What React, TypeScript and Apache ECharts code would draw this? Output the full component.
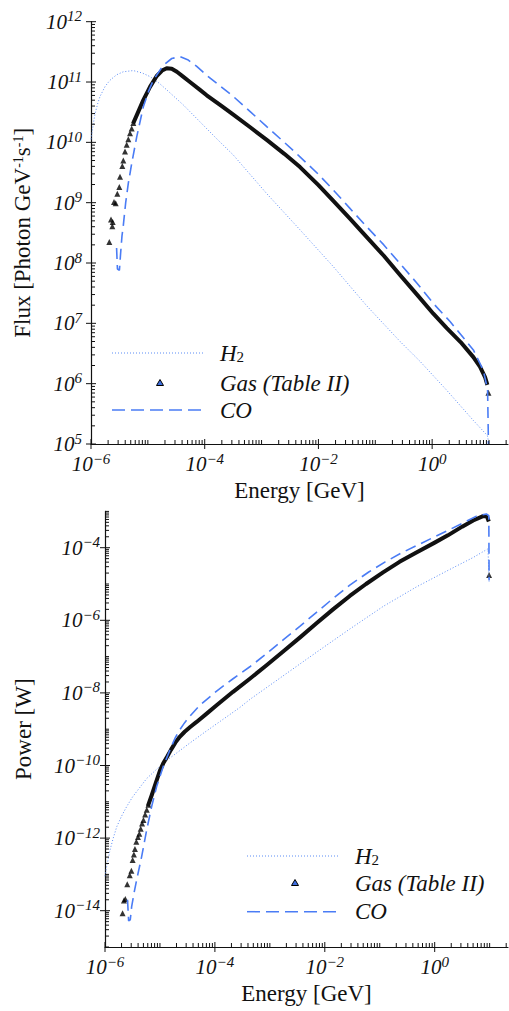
import React, { useEffect, useRef } from "react";
import * as echarts from "echarts";

// ---------- data (log10 values) ----------
// Top panel: x = log10(Energy / GeV), y = log10(Flux)
const fluxH2: [number, number][] = [
  [-6.0, 10.05], [-5.96, 10.3], [-5.93, 10.47], [-5.88, 10.65], [-5.842, 10.76], [-5.75, 10.93],
  [-5.666, 11.03], [-5.55, 11.12], [-5.432, 11.17], [-5.256, 11.19], [-5.1, 11.15], [-4.962, 11.09],
  [-4.8, 10.98], [-4.668, 10.87], [-4.376, 10.62], [-4.083, 10.34], [-3.8, 10.07], [-3.497, 9.79],
  [-2.909, 9.15], [-2.324, 8.55], [-1.738, 7.94], [-1.15, 7.29], [-0.565, 6.7], [-0.213, 6.37],
  [0.257, 5.89], [0.725, 5.39], [0.971, 5.14], [0.99, 5.05],
];
const fluxGasPoints: [number, number][] = [
  [-5.678, 8.35], [-5.648, 8.72], [-5.619, 8.68], [-5.625, 8.61], [-5.595, 9.01], [-5.566, 8.99],
  [-5.537, 9.15], [-5.502, 9.26], [-5.49, 9.43], [-5.449, 9.61], [-5.432, 9.7], [-5.402, 9.85],
  [-5.372, 9.96], [-5.344, 10.05], [-5.314, 10.15], [-5.284, 10.23], [-5.256, 10.32], [0.99, 5.85],
];
const fluxGasLine: [number, number][] = [
  [-5.26, 10.31], [-5.168, 10.51], [-5.08, 10.7], [-4.962, 10.92], [-4.844, 11.1], [-4.75, 11.19],
  [-4.668, 11.23], [-4.58, 11.22], [-4.49, 11.17], [-4.38, 11.09], [-4.26, 11.0], [-4.083, 10.87],
  [-3.965, 10.78], [-3.7, 10.6], [-3.497, 10.46], [-3.2, 10.25], [-2.909, 10.04], [-2.6, 9.81],
  [-2.324, 9.59], [-2.0, 9.29], [-1.738, 9.03], [-1.45, 8.74], [-1.15, 8.43], [-0.85, 8.12],
  [-0.565, 7.8], [-0.27, 7.48], [0.021, 7.16], [0.257, 6.92], [0.5, 6.69], [0.725, 6.44],
  [0.843, 6.28], [0.93, 6.11], [0.971, 5.98],
];
const fluxCO: [number, number][] = [
  [-5.55, 8.25], [-5.535, 7.9], [-5.5, 7.88], [-5.48, 8.15], [-5.455, 8.45], [-5.432, 8.62],
  [-5.39, 9.0], [-5.344, 9.32], [-5.284, 9.65], [-5.196, 10.09], [-5.08, 10.59], [-4.99, 10.84],
  [-4.904, 11.03], [-4.728, 11.28], [-4.58, 11.39], [-4.434, 11.42], [-4.3, 11.37], [-4.14, 11.26],
  [-3.95, 11.1], [-3.789, 10.98], [-3.497, 10.76], [-3.2, 10.51], [-2.909, 10.26], [-2.6, 10.0],
  [-2.324, 9.76], [-2.0, 9.47], [-1.738, 9.21], [-1.45, 8.91], [-1.15, 8.6], [-0.85, 8.3],
  [-0.565, 7.99], [-0.27, 7.67], [0.021, 7.33], [0.315, 7.03], [0.725, 6.56], [0.9, 6.22],
  [0.975, 5.9], [0.99, 5.0],
];

// Bottom panel: x = log10(Energy / GeV), y = log10(Power / W)
const powH2: [number, number][] = [
  [-6.0, -13.05], [-5.97, -12.79], [-5.909, -12.33], [-5.85, -12.0], [-5.787, -11.69], [-5.7, -11.4],
  [-5.605, -11.13], [-5.5, -10.87], [-5.364, -10.6], [-5.242, -10.36], [-5.1, -10.16], [-5.0, -10.02],
  [-4.878, -9.86], [-4.7, -9.66], [-4.455, -9.38], [-4.2, -9.1], [-3.9, -8.78], [-3.545, -8.4],
  [-3.364, -8.18], [-2.758, -7.53], [-2.151, -6.88], [-1.545, -6.24], [-0.94, -5.62], [-0.333, -5.08],
  [0.273, -4.6], [0.7, -4.27], [0.97, -4.03], [0.99, -4.95],
];
const powGasPoints: [number, number][] = [
  [-5.68, -14.07], [-5.655, -13.72], [-5.63, -13.68], [-5.595, -13.27], [-5.55, -13.02], [-5.52, -12.9],
  [-5.497, -12.6], [-5.475, -12.45], [-5.455, -12.3], [-5.43, -12.1], [-5.4, -11.97], [-5.376, -11.88],
  [-5.35, -11.74], [-5.325, -11.6], [-5.3, -11.5], [-5.27, -11.35], [-5.24, -11.22], [-5.21, -11.08],
  [0.99, -4.75],
];
const powGasLine: [number, number][] = [
  [-5.22, -11.12], [-5.15, -10.82], [-5.08, -10.5], [-5.0, -10.14], [-4.94, -9.94], [-4.87, -9.76],
  [-4.8, -9.57], [-4.72, -9.37], [-4.64, -9.21], [-4.55, -9.07], [-4.45, -8.94], [-4.333, -8.8],
  [-4.15, -8.57], [-3.969, -8.34], [-3.67, -7.97], [-3.364, -7.61], [-3.06, -7.24], [-2.758, -6.86],
  [-2.45, -6.47], [-2.151, -6.08], [-1.85, -5.7], [-1.545, -5.33], [-1.25, -5.0], [-0.94, -4.68],
  [-0.64, -4.39], [-0.333, -4.13], [0.0, -3.86], [0.24, -3.66], [0.5, -3.42], [0.7, -3.25],
  [0.88, -3.13], [0.95, -3.14], [0.985, -3.28],
];
const powCO: [number, number][] = [
  [-5.59, -13.7], [-5.57, -14.28], [-5.54, -14.25], [-5.515, -13.89], [-5.47, -13.5], [-5.424, -13.15],
  [-5.333, -12.51], [-5.242, -11.78], [-5.151, -11.13], [-5.06, -10.58], [-4.94, -10.03], [-4.818, -9.57],
  [-4.72, -9.23], [-4.64, -9.02], [-4.55, -8.82], [-4.455, -8.64], [-4.273, -8.34], [-3.969, -7.95],
  [-3.67, -7.61], [-3.364, -7.28], [-3.06, -6.92], [-2.758, -6.54], [-2.45, -6.16], [-2.151, -5.78],
  [-1.85, -5.4], [-1.545, -5.03], [-1.2, -4.67], [-0.9, -4.39], [-0.6, -4.14], [-0.3, -3.92],
  [0.0, -3.7], [0.3, -3.48], [0.55, -3.29], [0.76, -3.13], [0.94, -3.07], [0.985, -3.12], [0.99, -4.9],
];

// axes / tick labels (exponents)
const energyRange = [-6, 1.334];
const fluxRange = [5, 12];
const powRange = [-15, -3];
const energyLabelExps = [-6, -4, -2, 0];
const fluxLabelExps = [5, 6, 7, 8, 9, 10, 11, 12];
const powLabelExps = [-14, -12, -10, -8, -6, -4];
const minorMultipliers = [2, 3, 4, 5, 6, 7, 8, 9];

const legendNames = ["H2", "Gas (Table II)", "CO"];

// ---------- styling ----------
const FONT = "Liberation Serif";
const BLUE_DASH = "#4a7cf5";
const BLUE_DOT = "#5b8cf5";
const INK = "#111";

const supText = (n: number) => (n < 0 ? "\u2212" + Math.abs(n) : String(n));
const expFormatter = (shown: number[]) => (v: number) => {
  const r = Math.round(v);
  if (Math.abs(v - r) > 1e-6 || shown.indexOf(r) < 0) return "";
  return `{b|10}{s|${supText(r)}}`;
};
const labelRich = {
  b: { fontFamily: FONT, fontStyle: "italic", fontSize: 21, color: INK, lineHeight: 26 },
  s: { fontFamily: FONT, fontStyle: "italic", fontSize: 15, color: INK, verticalAlign: "top", lineHeight: 15 },
};

function buildTicks(range: number[], labeled: number[]) {
  const out: { v: number; major: boolean }[] = [];
  for (let d = Math.floor(range[0]); d <= Math.ceil(range[1]); d++) {
    if (d >= range[0] - 1e-9 && d <= range[1] + 1e-9) out.push({ v: d, major: labeled.indexOf(d) >= 0 });
    for (const k of minorMultipliers) {
      const v = d + Math.log10(k);
      if (v >= range[0] && v <= range[1]) out.push({ v, major: false });
    }
  }
  return out;
}

function tickSeries(idx: number, dir: "x" | "y", range: number[], labeled: number[], other: number) {
  const ticks = buildTicks(range, labeled);
  return {
    type: "custom",
    xAxisIndex: idx,
    yAxisIndex: idx,
    silent: true,
    clip: false,
    z: 5,
    encode: { x: 0, y: 1 },
    data: ticks.map((t) => (dir === "x" ? [t.v, other, t.major ? 1 : 0] : [other, t.v, t.major ? 1 : 0])),
    renderItem: (_p: any, api: any) => {
      const p = api.coord([api.value(0), api.value(1)]);
      const major = api.value(2) === 1;
      const inLen = major ? 5 : 4;
      const outLen = major ? 5 : 0;
      const shape =
        dir === "x"
          ? { x1: p[0], y1: p[1] - inLen, x2: p[0], y2: p[1] + outLen }
          : { x1: p[0] - outLen, y1: p[1], x2: p[0] + inLen, y2: p[1] };
      return { type: "line", shape, style: { stroke: INK, lineWidth: 1 } };
    },
  };
}

function axisCommon() {
  return {
    type: "value",
    axisLine: { show: true, onZero: false, lineStyle: { color: INK, width: 1.2 } },
    axisTick: { show: false },
    splitLine: { show: false },
  };
}

function legendGraphic(x0: number, x1: number, tx: number, tri: number, ys: number[]) {
  const textStyle = { fontFamily: FONT, fontStyle: "italic", fontSize: 23, fill: INK };
  const rich = {
    i: { fontFamily: FONT, fontStyle: "italic", fontSize: 23, color: INK },
    sub: { fontFamily: FONT, fontSize: 15, color: INK, verticalAlign: "bottom" },
  };
  return [
    { type: "line", shape: { x1: x0, y1: ys[0], x2: x1, y2: ys[0] }, style: { stroke: BLUE_DOT, lineWidth: 1, lineDash: [1, 2] } },
    { type: "text", x: tx, y: ys[0], style: { text: "{i|H}{sub|2}", rich, verticalAlign: "middle", ...textStyle } },
    {
      type: "polygon",
      shape: { points: [[tri, ys[1] - 3.5], [tri + 3.5, ys[1] + 2.5], [tri - 3.5, ys[1] + 2.5]] },
      style: { fill: "#3f6fe0", stroke: "#000", lineWidth: 1 },
    },
    { type: "text", x: tx, y: ys[1], style: { text: legendNames[1], verticalAlign: "middle", ...textStyle } },
    { type: "line", shape: { x1: x0, y1: ys[2], x2: x1, y2: ys[2] }, style: { stroke: BLUE_DASH, lineWidth: 1.5, lineDash: [13, 6] } },
    { type: "text", x: tx, y: ys[2], style: { text: legendNames[2], verticalAlign: "middle", ...textStyle } },
  ];
}

export default function App() {
  const ref = useRef<HTMLDivElement>(null);
  useEffect(() => {
    if (!ref.current) return;
    const chart = echarts.init(ref.current, null, { renderer: "svg" });
    const nameStyle = {
      fontFamily: FONT,
      fontSize: 23,
      color: INK,
      rich: {
        a: { fontFamily: FONT, fontSize: 23, color: INK },
        s: { fontFamily: FONT, fontSize: 14, color: INK, verticalAlign: "top" },
      },
    };
    const lineBase = { type: "line", showSymbol: false, symbol: "none", silent: true };
    const gasSym = { type: "scatter", symbol: "triangle", symbolSize: 6, itemStyle: { color: "#000" }, silent: true };
    chart.setOption({
      animation: false,
      backgroundColor: "#fff",
      grid: [
        { left: 91, top: 21.7, width: 417, height: 422.3 },
        { left: 105, top: 511.4, width: 403, height: 435.6 },
      ],
      xAxis: [0, 1].map((i) => ({
        ...axisCommon(),
        gridIndex: i,
        min: energyRange[0],
        max: energyRange[1],
        interval: 2,
        axisLabel: { formatter: expFormatter(energyLabelExps), rich: labelRich, margin: 7, showMaxLabel: false },
        name: "Energy [GeV]",
        nameLocation: "middle",
        nameGap: 35,
        nameTextStyle: { fontFamily: FONT, fontSize: 23, color: INK },
      })),
      yAxis: [
        {
          ...axisCommon(),
          gridIndex: 0,
          min: fluxRange[0],
          max: fluxRange[1],
          interval: 1,
          axisLabel: { formatter: expFormatter(fluxLabelExps), rich: labelRich, margin: 9 },
          name: "{a|Flux [Photon GeV}{s|-1}{a|s}{s|-1}{a|]}",
          nameLocation: "middle",
          nameGap: 57,
          nameTextStyle: nameStyle,
        },
        {
          ...axisCommon(),
          gridIndex: 1,
          min: powRange[0],
          max: powRange[1],
          interval: 1,
          axisLabel: { formatter: expFormatter(powLabelExps), rich: labelRich, margin: 5 },
          name: "Power [W]",
          nameLocation: "middle",
          nameGap: 70,
          nameTextStyle: { fontFamily: FONT, fontSize: 23, color: INK },
        },
      ],
      series: [
        tickSeries(0, "x", energyRange, energyLabelExps, fluxRange[0]),
        tickSeries(0, "y", fluxRange, fluxLabelExps, energyRange[0]),
        tickSeries(1, "x", energyRange, energyLabelExps, powRange[0]),
        tickSeries(1, "y", powRange, powLabelExps, energyRange[0]),
        // top panel
        { ...lineBase, name: legendNames[0], xAxisIndex: 0, yAxisIndex: 0, data: fluxH2, lineStyle: { color: BLUE_DOT, width: 1, type: [1, 2] } },
        { ...lineBase, name: legendNames[1], xAxisIndex: 0, yAxisIndex: 0, data: fluxGasLine, lineStyle: { color: INK, width: 4, join: "round" } },
        { ...gasSym, name: legendNames[1], xAxisIndex: 0, yAxisIndex: 0, data: fluxGasPoints },
        { ...lineBase, name: legendNames[2], xAxisIndex: 0, yAxisIndex: 0, data: fluxCO, lineStyle: { color: BLUE_DASH, width: 1.6, type: [11, 6] } },
        // bottom panel
        { ...lineBase, name: legendNames[0], xAxisIndex: 1, yAxisIndex: 1, data: powH2, lineStyle: { color: BLUE_DOT, width: 1, type: [1, 2] } },
        { ...lineBase, name: legendNames[1], xAxisIndex: 1, yAxisIndex: 1, data: powGasLine, lineStyle: { color: INK, width: 4, join: "round" } },
        { ...gasSym, name: legendNames[1], xAxisIndex: 1, yAxisIndex: 1, data: powGasPoints },
        { ...lineBase, name: legendNames[2], xAxisIndex: 1, yAxisIndex: 1, data: powCO, lineStyle: { color: BLUE_DASH, width: 1.6, type: [11, 6] } },
      ],
      graphic: [
        ...legendGraphic(112, 205, 220, 160, [353, 383, 410]),
        ...legendGraphic(247, 340, 355, 295, [856, 883, 911.7]),
      ],
    });
    return () => chart.dispose();
  }, []);
  return <div ref={ref} style={{ position: "absolute", left: 0, top: 0, width: 509, height: 1011 }} />;
}
